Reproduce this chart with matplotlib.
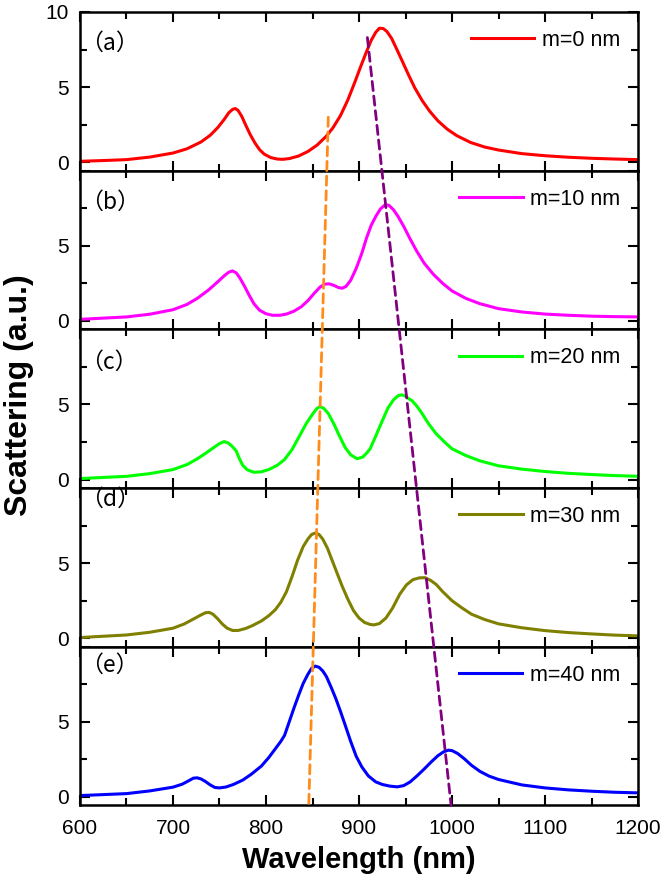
import matplotlib
matplotlib.use('Agg')
import matplotlib.pyplot as plt
from matplotlib.patches import ConnectionPatch
from matplotlib.ticker import MultipleLocator

plt.rcParams['font.family'] = ['Liberation Sans', 'DejaVu Sans']

# data (wavelength nm, scattering a.u.)
wl_a = [600, 625, 650, 675, 700, 715, 730, 740, 748, 755, 760, 764, 767, 770, 774, 778, 783, 788, 793,
        798, 805, 812, 818, 825, 835, 845, 855, 865, 872, 880, 888, 895, 902, 908, 913, 918, 922, 926,
        930, 935, 940, 946, 953, 960, 968, 976, 985, 995, 1005, 1020, 1035, 1050, 1075, 1100, 1125,
        1150, 1175, 1200]
sc_a = [0.07, 0.12, 0.18, 0.35, 0.62, 0.9, 1.35, 1.8, 2.3, 2.85, 3.3, 3.52, 3.58, 3.45, 3.05, 2.5, 1.85,
        1.3, 0.85, 0.55, 0.32, 0.22, 0.2, 0.25, 0.42, 0.72, 1.15, 1.75, 2.3, 3.1, 4.15, 5.25, 6.4, 7.35,
        8.1, 8.65, 8.92, 8.9, 8.7, 8.25, 7.6, 6.8, 5.85, 4.95, 4.1, 3.4, 2.75, 2.2, 1.78, 1.32, 1.02, 0.82,
        0.58, 0.44, 0.34, 0.27, 0.22, 0.18]

wl_b = [600, 650, 675, 700, 715, 726, 738, 748, 755, 760, 764, 768, 772, 777, 782, 787, 793, 800, 807,
        815, 822, 830, 838, 845, 852, 858, 863, 868, 873, 878, 882, 886, 891, 897, 903, 908, 913, 918,
        923, 928, 932, 937, 942, 948, 955, 962, 970, 980, 990, 1000, 1015, 1030, 1050, 1075, 1100, 1125,
        1150, 1175, 1200]
sc_b = [0.11, 0.27, 0.45, 0.75, 1.1, 1.5, 2.05, 2.6, 3.0, 3.25, 3.33, 3.2, 2.85, 2.3, 1.7, 1.15, 0.72,
        0.48, 0.38, 0.38, 0.46, 0.65, 0.95, 1.35, 1.85, 2.25, 2.45, 2.47, 2.37, 2.22, 2.18, 2.3, 2.7, 3.5,
        4.5, 5.5, 6.35, 6.95, 7.45, 7.72, 7.7, 7.4, 6.95, 6.3, 5.45, 4.65, 3.85, 3.1, 2.5, 2.0, 1.5, 1.15,
        0.82, 0.6, 0.46, 0.38, 0.32, 0.29, 0.27]

wl_c = [600, 650, 675, 700, 715, 726, 735, 743, 750, 755, 759, 763, 766, 768, 771, 775, 780, 787, 795,
        803, 812, 820, 828, 836, 843, 850, 855, 858, 862, 867, 873, 879, 885, 891, 898, 904, 908, 912,
        918, 925, 931, 937, 942, 946, 950, 953, 957, 962, 967, 975, 983, 992, 1000, 1015, 1030, 1050,
        1075, 1100, 1125, 1150, 1175, 1200]
sc_c = [0.07, 0.22, 0.4, 0.67, 1.0, 1.38, 1.75, 2.1, 2.4, 2.53, 2.45, 2.25, 2.05, 1.9, 1.45, 0.95, 0.65,
        0.49, 0.52, 0.67, 0.95, 1.34, 2.0, 2.9, 3.7, 4.35, 4.75, 4.85, 4.75, 4.4, 3.7, 2.9, 2.15, 1.65,
        1.39, 1.5, 1.75, 2.05, 2.9, 3.91, 4.75, 5.3, 5.58, 5.64, 5.55, 5.4, 5.25, 4.9, 4.47, 3.7, 3.05,
        2.5, 2.05, 1.6, 1.25, 0.92, 0.7, 0.54, 0.42, 0.34, 0.27, 0.22]

wl_d = [600, 650, 675, 700, 712, 722, 730, 735, 739, 743, 748, 753, 758, 764, 770, 778, 785, 795, 803,
        810, 816, 822, 828, 834, 840, 845, 849, 853, 857, 861, 866, 871, 876, 882, 888, 894, 900, 906,
        912, 916, 922, 929, 936, 944, 951, 958, 965, 971, 977, 983, 990, 1000, 1010, 1021, 1035, 1050,
        1075, 1100, 1125, 1150, 1175, 1200]
sc_d = [0.05, 0.22, 0.4, 0.67, 0.95, 1.28, 1.55, 1.7, 1.72, 1.6, 1.3, 0.95, 0.68, 0.52, 0.52, 0.65, 0.83,
        1.15, 1.5, 1.9, 2.4, 3.1, 4.1, 5.2, 6.1, 6.6, 6.9, 7.0, 6.9, 6.6, 6.0, 5.2, 4.4, 3.45, 2.6, 1.85,
        1.35, 1.05, 0.92, 0.89, 0.98, 1.35, 2.0, 2.95, 3.55, 3.9, 4.02, 4.03, 3.85, 3.58, 3.1, 2.5, 2.05,
        1.6, 1.25, 0.96, 0.7, 0.51, 0.38, 0.29, 0.21, 0.16]

wl_e = [600, 650, 675, 700, 710, 717, 722, 726, 730, 735, 740, 745, 750, 757, 765, 775, 784, 795, 803,
        810, 816, 820, 825, 830, 835, 840, 845, 849, 853, 857, 861, 865, 870, 875, 880, 885, 891, 897,
        903, 910, 918, 925, 933, 941, 948, 955, 962, 970, 978, 985, 991, 996, 1000, 1006, 1013, 1021,
        1030, 1040, 1050, 1075, 1100, 1125, 1150, 1175, 1200]
sc_e = [0.09, 0.22, 0.4, 0.65, 0.85, 1.08, 1.25, 1.27, 1.2, 1.02, 0.8, 0.63, 0.6, 0.66, 0.83, 1.12, 1.5,
        2.05, 2.62, 3.2, 3.7, 4.1, 5.0, 5.9, 6.75, 7.55, 8.15, 8.55, 8.7, 8.62, 8.38, 8.0, 7.3, 6.55, 5.7,
        4.8, 3.7, 2.7, 2.0, 1.4, 1.0, 0.83, 0.72, 0.67, 0.75, 1.0, 1.38, 1.85, 2.35, 2.75, 3.0, 3.11, 3.08,
        2.89, 2.55, 2.1, 1.7, 1.38, 1.16, 0.8, 0.6, 0.47, 0.38, 0.31, 0.27]

wls = [wl_a, wl_b, wl_c, wl_d, wl_e]
scs = [sc_a, sc_b, sc_c, sc_d, sc_e]
names = ['m=0 nm', 'm=10 nm', 'm=20 nm', 'm=30 nm', 'm=40 nm']
panels = ['（a）', '（b）', '（c）', '（d）', '（e）']
colors = ['#FF0000', '#FF00FF', '#00FF00', '#808000', '#0000FF']
label_y = [0.805, 0.80, 0.79, 0.93, 0.885]

# guide lines: (wavelength, value) in top panel (a) and bottom panel (e)
orange_wl = [867, 846]
orange_sc = [3.0, -0.55]
purple_wl = [909, 999]
purple_sc = [8.3, -0.55]

fig, axs = plt.subplots(5, 1, sharex=True, figsize=(6.66, 8.8), dpi=100)
fig.subplots_adjust(left=0.1201, right=0.958, top=0.9864, bottom=0.085, hspace=0)

for i, ax in enumerate(axs):
    ax.plot(wls[i], scs[i], color=colors[i], lw=2.2, label=names[i])
    ax.set_xlim(600, 1200)
    ax.set_ylim(-0.55, 10)
    ax.set_yticks([0, 5, 10])
    if i > 0:
        ax.set_yticklabels(['0', '5', ''])
    ax.yaxis.set_minor_locator(MultipleLocator(2.5))
    ax.xaxis.set_major_locator(MultipleLocator(100))
    ax.xaxis.set_minor_locator(MultipleLocator(50))
    ax.tick_params(which='both', direction='in', top=True, right=True, width=1.5, labelsize=15)
    ax.tick_params(axis='y', which='both', pad=8)
    ax.tick_params(axis='x', which='both', pad=10)
    ax.tick_params(which='major', length=7.5)
    ax.tick_params(which='minor', length=5)
    for sp in ax.spines.values():
        sp.set_linewidth(1.8)
    ax.legend(loc='center right', bbox_to_anchor=(0.968, 0.82), frameon=False, fontsize=15.5,
              handlelength=2.95, handletextpad=0.35, borderpad=0, borderaxespad=0)
    ax.text(0.0, label_y[i], panels[i], transform=ax.transAxes, fontsize=16.5, va='center',
            family=['Noto Sans CJK SC', 'DejaVu Sans'])

orange = ConnectionPatch(xyA=(orange_wl[0], orange_sc[0]), coordsA=axs[0].transData,
                         xyB=(orange_wl[1], orange_sc[1]), coordsB=axs[4].transData,
                         color='#FF8C1A', lw=2, ls=(0, (3.3, 2.0)))
purple = ConnectionPatch(xyA=(purple_wl[0], purple_sc[0]), coordsA=axs[0].transData,
                         xyB=(purple_wl[1], purple_sc[1]), coordsB=axs[4].transData,
                         color='#800080', lw=2, ls=(0, (3.3, 2.0)))
fig.add_artist(orange)
fig.add_artist(purple)

axs[4].set_xlabel('Wavelength (nm)', fontsize=21, fontweight='bold', labelpad=6)
fig.text(0.028, 0.551, 'Scattering (a.u.)', rotation=90, fontsize=23, fontweight='bold',
         ha='center', va='center')

fig.savefig('out.png', dpi=100)
